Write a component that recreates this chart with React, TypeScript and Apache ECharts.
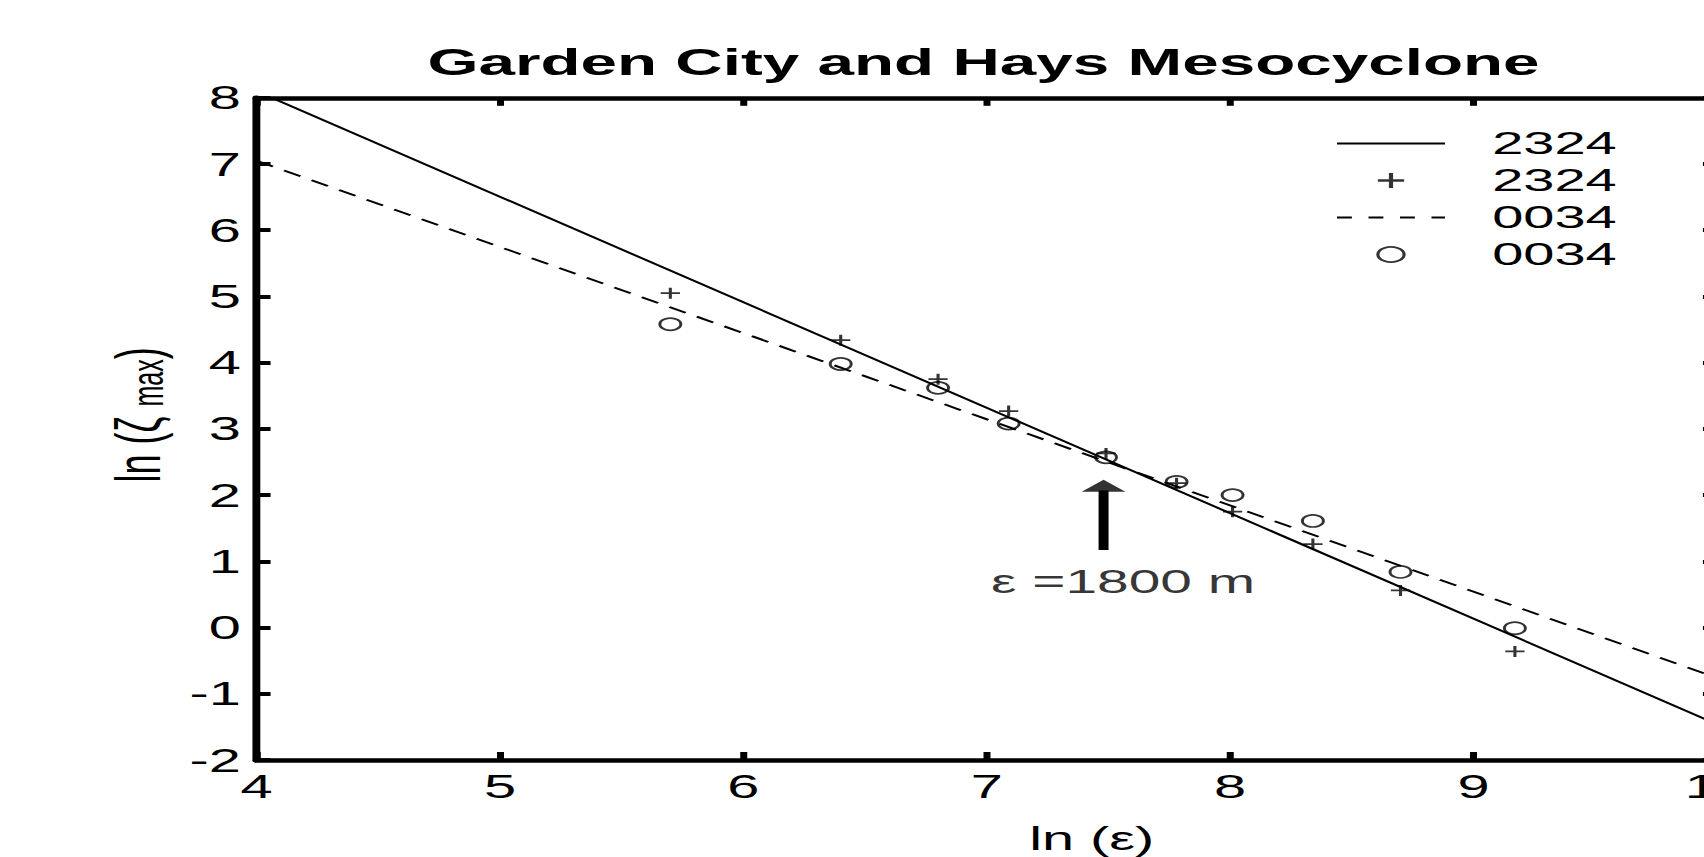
import React, { useEffect, useRef } from 'react';
import * as echarts from 'echarts';

// The reference picture is a horizontally stretched figure; the chart is drawn
// in an unstretched frame and stretched with a CSS transform.
const STRETCH_X = 1.75;
const CHART_W = 1010;
const CHART_H = 857;

const TITLE = 'Garden City and Hays Mesocyclone';
const X_NAME = 'ln (ε)';
const Y_NAME = 'ln (ζ {s|max})';

// ln(ε) of the sampled scales
const lnEps = [5.70, 6.40, 6.80, 7.09, 7.49, 7.78, 8.01, 8.34, 8.70, 9.17];
// ln(ζmax), case 2324 (+) and 0034 (o)
const zeta2324 = [5.05, 4.34, 3.75, 3.27, 2.63, 2.18, 1.75, 1.26, 0.56, -0.36];
const zeta0034 = [4.58, 3.98, 3.62, 3.08, 2.57, 2.20, 2.00, 1.61, 0.84, -0.01];

// fitted lines (end points)
const fit2324X = [4, 10];
const fit2324Y = [8.1, -1.46];
const fit0034X = [4, 10];
const fit0034Y = [7.05, -0.76];

// legend names (series) and shown labels
const seriesNames = ['2324 fit', '2324 obs', '0034 fit', '0034 obs'];

// annotation: arrow at ε = 1800 m
const arrowX = [7.48, 7.48];
const arrowShaftY = [1.17, 2.07];
const arrowHeadY = [2.14];
const annotationPos = [7.56, 0.69];
const ANNOTATION = 'ε =1800 m';

const zip = (xs: number[], ys: number[]) => xs.map((x, i) => [x, ys[i]]);

export default function App() {
  const ref = useRef<HTMLDivElement>(null);
  useEffect(() => {
    if (!ref.current) return;
    const chart = echarts.init(ref.current, null, { renderer: 'svg' });
    const font = '"Liberation Sans", Arial, Helvetica, sans-serif';
    const plusPath = 'path://M4.2,0H5.8V4.2H10V5.8H5.8V10H4.2V5.8H0V4.2H4.2Z';
    const hiddenSymbol = { color: 'transparent', borderColor: 'transparent', borderWidth: 0, opacity: 0 };
    const axisCommon = {
      type: 'value',
      interval: 1,
      axisLine: { show: true, onZero: false, lineStyle: { color: '#000', width: 4.5 } },
      axisTick: { show: true, inside: true, length: 8, lineStyle: { color: '#000', width: 4 } },
      splitLine: { show: false },
    };
    chart.setOption({
      animation: false,
      backgroundColor: '#fff',
      title: {
        text: TITLE,
        left: 562,
        top: 43,
        textAlign: 'center',
        padding: 0,
        textStyle: { fontFamily: font, fontSize: 37.5, fontWeight: 'bold', color: '#000' },
      },
      legend: {
        orient: 'vertical',
        left: 762.9,
        top: 125,
        padding: 0,
        itemWidth: 61.7,
        itemHeight: 15,
        itemGap: 0,
        selectedMode: false,
        data: [
          { name: seriesNames[0], itemStyle: hiddenSymbol, lineStyle: { color: '#000', width: 2.2, type: 'solid', opacity: 1 } },
          { name: seriesNames[1], itemStyle: { color: '#000', borderWidth: 0 } },
          { name: seriesNames[2], itemStyle: hiddenSymbol, lineStyle: { color: '#000', width: 2.2, type: [8.5, 9.5], opacity: 1 } },
          { name: seriesNames[3], icon: 'circle', itemStyle: { color: 'transparent', borderColor: '#000', borderWidth: 1.8 } },
        ],
        formatter: (n: string) => n.split(' ')[0],
        textStyle: { fontSize: 32, fontFamily: font, color: '#000', lineHeight: 37, padding: [0, 0, 0, 22] },
      },
      grid: { left: 146.6, right: CHART_W - 981.1, top: 97.8, bottom: CHART_H - 760, containLabel: false, outerBoundsMode: 'none' },
      xAxis: [
        {
          ...axisCommon,
          min: 4,
          max: 10,
          position: 'bottom',
          axisLabel: { color: '#000', fontSize: 33, fontFamily: font, margin: 10 },
          name: X_NAME,
          nameLocation: 'middle',
          nameGap: 62,
          nameTextStyle: { fontSize: 33, fontFamily: font, color: '#000', padding: [0, 0, 0, 120] },
        },
        {
          ...axisCommon,
          min: 4,
          max: 10,
          position: 'top',
          axisLabel: { show: false },
        },
      ],
      yAxis: [
        {
          ...axisCommon,
          min: -2,
          max: 8,
          position: 'left',
          axisLabel: { color: '#000', fontSize: 33, fontFamily: font, margin: 9 },
          name: Y_NAME,
          nameLocation: 'middle',
          nameGap: 45,
          nameRotate: 90,
          nameTextStyle: {
            fontSize: 36,
            fontFamily: font,
            color: '#000',
            padding: [0, 0, 0, 28],
            rich: { s: { fontSize: 25, fontFamily: font, color: '#000', verticalAlign: 'bottom' } },
          },
        },
        {
          ...axisCommon,
          min: -2,
          max: 8,
          position: 'right',
          axisLabel: { show: false },
        },
      ],
      series: [
        {
          name: seriesNames[0],
          type: 'line',
          data: zip(fit2324X, fit2324Y),
          symbol: 'none',
          showSymbol: false,
          clip: true,
          silent: true,
          itemStyle: { color: '#000' },
          lineStyle: { color: '#000', width: 1.8, type: 'solid' },
        },
        {
          name: seriesNames[1],
          type: 'scatter',
          data: zip(lnEps, zeta2324),
          symbol: plusPath,
          symbolSize: 11,
          silent: true,
          itemStyle: { color: '#000' },
          z: 3,
        },
        {
          name: seriesNames[2],
          type: 'line',
          data: zip(fit0034X, fit0034Y),
          symbol: 'none',
          showSymbol: false,
          clip: true,
          silent: true,
          itemStyle: { color: '#000' },
          lineStyle: { color: '#000', width: 1.8, type: [11, 7.5] },
        },
        {
          name: seriesNames[3],
          type: 'scatter',
          data: zip(lnEps, zeta0034),
          symbol: 'circle',
          symbolSize: 12,
          silent: true,
          itemStyle: { color: 'transparent', borderColor: '#000', borderWidth: 1.7 },
          z: 3,
        },
        {
          name: 'arrowShaft',
          type: 'line',
          data: zip(arrowX, arrowShaftY),
          symbol: 'none',
          showSymbol: false,
          silent: true,
          lineStyle: { color: '#000', width: 5.7 },
        },
        {
          name: 'arrowHead',
          type: 'scatter',
          data: zip([arrowX[0]], arrowHeadY),
          symbol: 'triangle',
          symbolSize: [25, 12],
          silent: true,
          itemStyle: { color: '#000' },
        },
        {
          name: 'annotation',
          type: 'scatter',
          data: [annotationPos],
          symbolSize: 1,
          silent: true,
          itemStyle: { color: 'transparent' },
          label: {
            show: true,
            position: 'inside',
            formatter: ANNOTATION,
            fontSize: 32.5,
            fontFamily: font,
            color: '#000',
          },
        },
      ],
    });
    return () => chart.dispose();
  }, []);
  return (
    <div
      style={{
        position: 'absolute',
        left: 0,
        top: 0,
        width: 1704,
        height: 857,
        overflow: 'hidden',
        background: '#fff',
      }}
    >
      <div
        ref={ref}
        style={{
          width: CHART_W,
          height: CHART_H,
          transform: `scaleX(${STRETCH_X})`,
          transformOrigin: '0 0',
        }}
      />
    </div>
  );
}
